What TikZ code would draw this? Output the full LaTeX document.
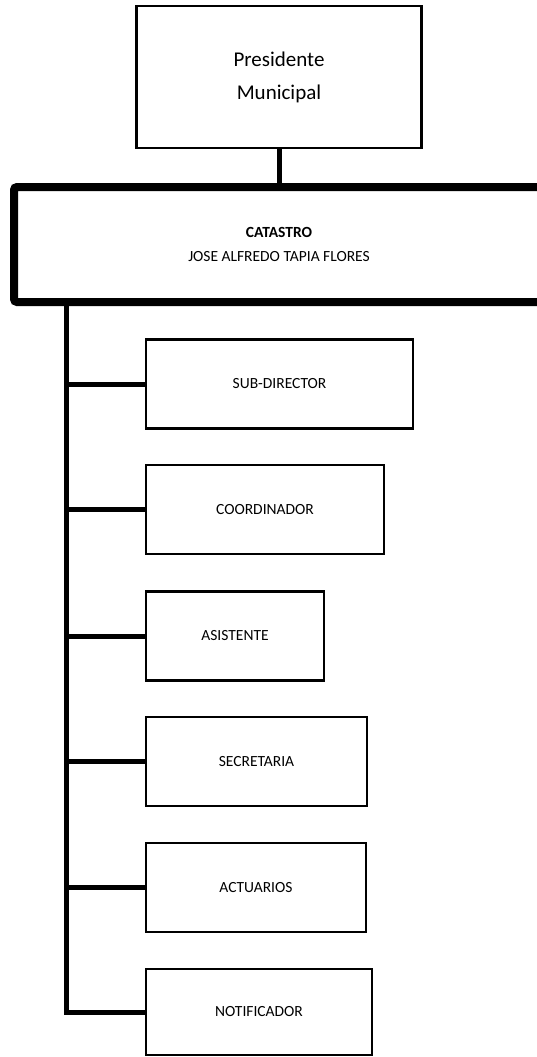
\documentclass[tikz,border=0pt]{standalone}
\usepackage{fontspec}
\setmainfont{Carlito}
\usetikzlibrary{positioning, calc}
\definecolor{linegray}{RGB}{0,0,0}
\tikzset{
    boss/.style={rectangle, draw=linegray, line width=2.5pt, outer sep=0pt, minimum width=285pt, minimum height=142pt, align=center, font=\fontsize{21}{33}\selectfont},
    area/.style={rectangle, rounded corners=3pt, draw=linegray, line width=8pt, outer sep=0pt, minimum width=530pt, minimum height=115pt, align=center, font=\fontsize{15.5}{24}\selectfont},
    post/.style={rectangle, draw=linegray, line width=2.5pt, outer sep=0pt, anchor=west, minimum height=89pt, font=\fontsize{15.5}{19}\selectfont},
    link/.style={line width=5pt, linegray},
}
\begin{document}
\begin{tikzpicture}[x=1pt, y=-1pt]
    \useasboundingbox (0,0) rectangle (537,1057);
    \node[boss] (pres) at (279,77) {Presidente\\Municipal};
    \node[area] (cat) at (279,244.5) {\textbf{CATASTRO}\\JOSE ALFREDO TAPIA FLORES};
    \draw[link] (pres.south) -- (cat.north);
    \node[post, minimum width=267pt] (sub) at (146,384) {SUB-DIRECTOR};
    \node[post, minimum width=238pt] (coord) at (146,509.5) {COORDINADOR};
    \node[post, minimum width=178pt] (asis) at (146,636) {ASISTENTE};
    \node[post, minimum width=221pt] (secr) at (146,761.5) {SECRETARIA};
    \node[post, minimum width=220pt] (actu) at (146,887.5) {ACTUARIOS};
    \node[post, minimum width=226pt, minimum height=86pt] (notif) at (146,1012) {NOTIFICADOR};
    % trunk down the left side
    \draw[link] ([xshift=52pt]cat.south west) |- (notif.west);
    \foreach \n in {sub, coord, asis, secr, actu}
        \draw[link] (\n.west) -- ++(-80pt,0);
\end{tikzpicture}
\end{document}
